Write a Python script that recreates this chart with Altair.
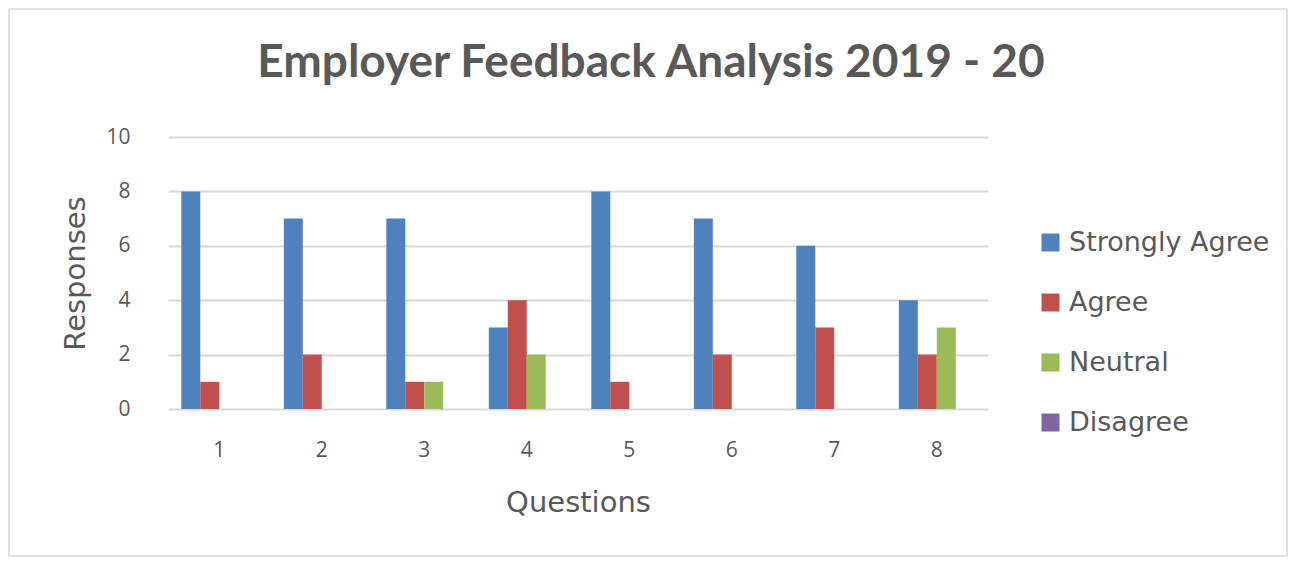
import altair as alt
import pandas as pd

questions = ["1", "2", "3", "4", "5", "6", "7", "8"]
series = ["Strongly Agree", "Agree", "Neutral", "Disagree"]
strongly_agree = [8, 7, 7, 3, 8, 7, 6, 4]
agree = [1, 2, 1, 4, 1, 2, 3, 2]
neutral = [0, 0, 1, 2, 0, 0, 0, 3]
disagree = [0, 0, 0, 0, 0, 0, 0, 0]
colors = ["#4F81BD", "#C0504D", "#9BBB59", "#8064A2"]

rows = []
for s, vals in zip(series, [strongly_agree, agree, neutral, disagree]):
    for q, v in zip(questions, vals):
        rows.append({"Question": q, "Series": s, "Responses": v})
df = pd.DataFrame(rows)

TXT = "#595959"
FONT = "Open Sans"
WFONT = "DejaVu Sans"

bars = alt.Chart(df).mark_bar().encode(
    x=alt.X("Question:N", sort=questions,
            scale=alt.Scale(paddingInner=0.26, paddingOuter=0.13),
            axis=alt.Axis(title="Questions", labelAngle=0, domain=False, ticks=False,
                          labelPadding=30, labelFontSize=21, labelColor=TXT, labelFont=FONT,
                          titleFontSize=29, titleColor=TXT, titleFont=WFONT, titleFontWeight="normal",
                          titleY=93, titleBaseline="middle", grid=False)),
    xOffset=alt.XOffset("Series:N", sort=series, scale=alt.Scale(paddingInner=0, paddingOuter=0)),
    y=alt.Y("Responses:Q", scale=alt.Scale(domain=[0, 10]),
            axis=alt.Axis(title="Responses", values=[0, 2, 4, 6, 8, 10], domain=False, ticks=False,
                          labelPadding=38, labelFontSize=21, labelColor=TXT, labelFont=FONT,
                          titleFontSize=29, titleColor=TXT, titleFont=WFONT, titleFontWeight="normal",
                          titleX=-93, titleY=136, titleAngle=-90, titleBaseline="middle",
                          titleAlign="center",
                          grid=True, gridColor="#D9D9D9", gridWidth=1.8)),
    color=alt.Color("Series:N", sort=series, scale=alt.Scale(domain=series, range=colors),
                    legend=alt.Legend(title=None, orient="none", legendX=869, legendY=92,
                                      symbolType="square", symbolSize=324, symbolStrokeWidth=0,
                                      labelFontSize=27, labelColor=TXT, labelFont=WFONT,
                                      labelLimit=400,
                                      labelOffset=5, rowPadding=32, padding=0)),
)

border = alt.Chart(alt.Data(values=[{"a": 1}])).mark_rect(
    fill=None, stroke="#D9D9D9", strokeWidth=1.5
).encode(
    x=alt.value(-159), x2=alt.value(1119),
    y=alt.value(-128), y2=alt.value(419),
)

chart = alt.layer(border, bars).properties(
    width=820, height=272,
    title=alt.Title("Employer Feedback Analysis 2019 - 20", font="Lato", fontSize=46,
                    fontWeight="bold", color=TXT, anchor="middle", dx=73, offset=-79),
    autosize=alt.AutoSizeParams(type="none"),
    padding={"left": 160, "top": 129, "right": 300, "bottom": 148},
).configure_view(stroke=None)

chart.save("out.html", embed_options={"renderer": "svg", "actions": False})
